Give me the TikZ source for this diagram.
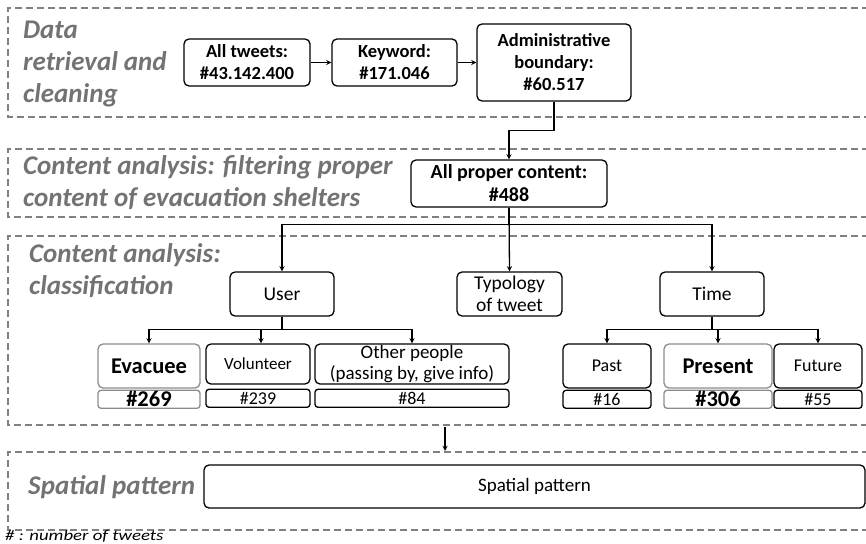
\documentclass[tikz,border=0pt]{standalone}
\usepackage{fontspec}
\setmainfont{Carlito}
\usetikzlibrary{arrows.meta, positioning, calc}

\begin{document}
\begin{tikzpicture}[x=1pt, y=-1pt, font=\fontsize{18}{21}\selectfont,
  box/.style = {draw, line width=1.3pt, rounded corners=5pt, inner sep=0pt, align=center},
  headbox/.style = {box, font=\fontsize{18.5}{22}\selectfont\bfseries},
  midbox/.style = {box, minimum width=104pt, minimum height=44pt, font=\fontsize{19.5}{22}\selectfont},
  numbox/.style = {box, rounded corners=3pt, minimum height=18pt},
  hibox/.style = {draw=black!45, font=\fontsize{22.5}{26}\selectfont\bfseries},
  section/.style = {draw=black!50, line width=2pt, dash pattern=on 7pt off 4pt},
  stagelabel/.style = {anchor=west, text=black!55, inner sep=0pt, align=left,
    font=\fontsize{27}{32}\selectfont\bfseries\itshape},
  arrow/.style = {->, >=stealth, line width=1.3pt}
]
\useasboundingbox (0,0) rectangle (866,543);

% stages
\draw[section] (880,8) -- (8,8) -- (8,117) -- (880,117);
\draw[section] (880,149) -- (8,149) -- (8,217) -- (880,217);
\draw[section] (880,236) -- (8,236) -- (8,425) -- (880,425);
\draw[section] (880,452) -- (8,452) -- (8,530) -- (880,530);
\node[stagelabel] (lbl_retrieval) at (23,64) {Data\\retrieval and\\cleaning};
\node[stagelabel] (lbl_filtering) at (23,183) {Content analysis: filtering proper\\content of evacuation shelters};
\node[stagelabel] (lbl_classif) at (29,271) {Content analysis:\\classification};
\node[stagelabel] (lbl_spatial) at (28,487) {Spatial pattern};

% data retrieval
\node[headbox, minimum width=126pt, minimum height=47pt] (all_tweets) at (247,62.5) {All tweets:\\\#43.142.400};
\node[headbox, minimum width=125pt, minimum height=47pt] (keyword) at (394.5,62.5) {Keyword:\\\#171.046};
\node[headbox, minimum width=154pt, minimum height=77pt] (admin) at (554,62.5) {Administrative\\boundary:\\\#60.517};
\node[headbox, minimum width=196pt, minimum height=47pt, font=\fontsize{20}{23}\selectfont\bfseries] (all_proper) at (509,183.5) {All proper content:\\\#488};

% classification
\node[midbox] (user) at (282,294) {User};
\node[midbox, minimum width=105pt] (typology) at (509.5,294) {Typology\\of tweet};
\node[midbox] (time) at (712,294) {Time};

\node[box, hibox, minimum width=102pt, minimum height=44pt] (evacuee) at (149,366) {Evacuee};
\node[box, minimum width=104pt, minimum height=40pt, font=\fontsize{17}{20}\selectfont] (volunteer) at (258,364) {Volunteer};
\node[box, minimum width=194pt, minimum height=40pt, font=\fontsize{19}{21}\selectfont] (other) at (412,364) {Other people\\(passing by, give info)};
\node[box, minimum width=88pt, minimum height=44pt] (past) at (607,366) {Past};
\node[box, hibox, minimum width=108pt, minimum height=44pt] (present) at (718,366) {Present};
\node[box, minimum width=88pt, minimum height=44pt] (future) at (818,366) {Future};

\node[numbox, hibox, minimum width=102pt, below=1pt of evacuee] (n_evacuee) {\#269};
\node[numbox, minimum width=104pt, below=4pt of volunteer] (n_volunteer) {\#239};
\node[numbox, minimum width=194pt, below=4pt of other] (n_other) {\#84};
\node[numbox, minimum width=88pt, below=1pt of past] (n_past) {\#16};
\node[numbox, hibox, minimum width=108pt, below=1pt of present] (n_present) {\#306};
\node[numbox, minimum width=88pt, below=1pt of future] (n_future) {\#55};

% spatial pattern
\node[box, minimum width=661pt, minimum height=43pt, font=\fontsize{19}{22}\selectfont] (spatial) at (534.5,486.5) {Spatial pattern};
\coordinate (classif_out) at (445,427);
\coordinate (spatial_in) at (445,451);

\node[anchor=base west, inner sep=0pt, font=\fontsize{15}{17}\selectfont\itshape\addfontfeature{FakeStretch=1.25}] (note) at (5,540.5) {\# : number of tweets};

\draw[arrow] (all_tweets) -- (keyword);
\draw[arrow] (keyword) -- (admin);
\draw[arrow] (admin.south) -- ++(0,29) -| (all_proper.north);
\draw[arrow] (all_proper.south) -- ++(0,17) -| (user.north);
\draw[arrow] (all_proper.south) -- ++(0,17) -| (time.north);
\draw[arrow] (all_proper.south) -- (typology.north);
\draw[arrow] (user.south) -- ++(0,13) -| (evacuee.north);
\draw[arrow] (user.south) -- ++(0,13) -| ([xshift=3pt]volunteer.north);
\draw[arrow] (user.south) -- ++(0,13) -| (other.north);
\draw[arrow] (time.south) -- ++(0,13) -| (past.north);
\draw[arrow] (time.south) -- ++(0,13) -| (present.north);
\draw[arrow] (time.south) -- ++(0,13) -| (future.north);
\draw[arrow] (classif_out) -- (spatial_in);
\end{tikzpicture}
\end{document}
